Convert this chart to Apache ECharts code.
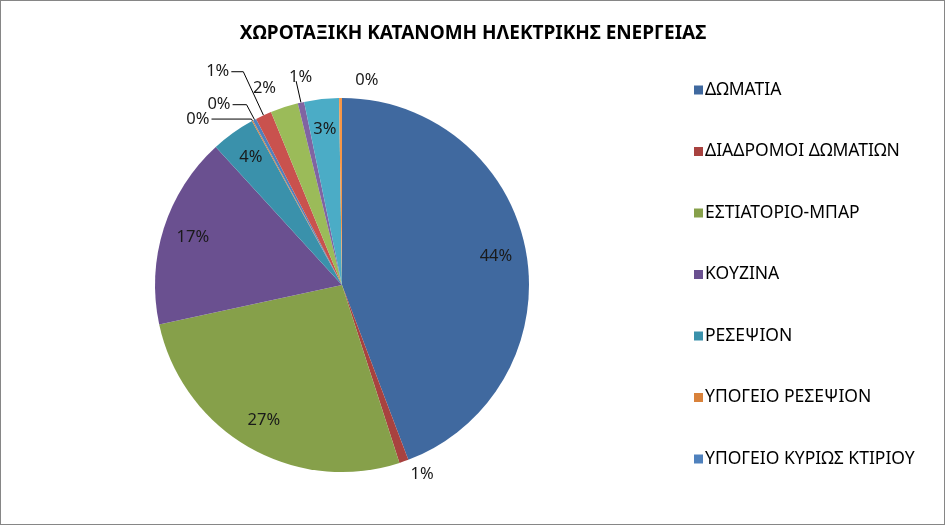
<!DOCTYPE html>
<html>
<head>
<meta charset="utf-8">
<script src="https://cdn.jsdelivr.net/npm/echarts@6/dist/echarts.min.js"></script>
<style>
html,body{margin:0;padding:0;background:#fff;}
#frame{width:945px;height:525px;box-sizing:border-box;border:1px solid #868686;position:relative;}
#chart{position:absolute;left:0;top:0;width:943px;height:523px;}
</style>
</head>
<body>
<div id="frame"><div id="chart"></div></div>
<script>
const titleText = 'ΧΩΡΟΤΑΞΙΚΗ ΚΑΤΑΝΟΜΗ ΗΛΕΚΤΡΙΚΗΣ ΕΝΕΡΓΕΙΑΣ';
const categories = ['ΔΩΜΑΤΙΑ','ΔΙΑΔΡΟΜΟΙ ΔΩΜΑΤΙΩΝ','ΕΣΤΙΑΤΟΡΙΟ-ΜΠΑΡ','ΚΟΥΖΙΝΑ','ΡΕΣΕΨΙΟΝ','ΥΠΟΓΕΙΟ ΡΕΣΕΨΙΟΝ','ΥΠΟΓΕΙΟ ΚΥΡΙΩΣ ΚΤΙΡΙΟΥ','ΧΩΡΟΣ 8','ΧΩΡΟΣ 9','ΧΩΡΟΣ 10','ΧΩΡΟΣ 11','ΧΩΡΟΣ 12'];
const values = [44.25, 0.8, 26.6, 16.6, 3.8, 0.1, 0.3, 1.4, 2.4, 0.55, 3.0, 0.25];
const legendNames = categories.slice(0, 7);
const colors = ['#40699f','#a8423f','#86a04a','#6a5090','#3a91ab','#d9823b','#4f81bd','#c9524e','#9bbb59','#8064a2','#4bacc6','#f79646'];
const insideIdx = [0, 2, 3, 4, 10];
// leader line styling per small slice: [length, length2, showLine]
const leaderStyle = {1:[14,0,false], 5:[2,40,true], 6:[17,14,true], 7:[48,12,true], 8:[20,0,false], 9:[22,0,true], 11:[14,0,false]};
// small label nudges (offsets) to mimic the original best-fit placement
const labelNudge = {9:[18,-4], 11:[40,-4]};

const chart = echarts.init(document.getElementById('chart'), null, {renderer:'canvas'});
const fmt = p => Math.round(p.percent) + '%';
const labelFont = {fontFamily:'Noto Sans', fontSize:16.5, color:'#1a1a1a'};

const mainData = categories.map((n, i) => {
  const inside = insideIdx.indexOf(i) >= 0;
  const ls = leaderStyle[i] || [8, 8, true];
  return {
    name: n, value: values[i],
    itemStyle: {color: colors[i]},
    label: {show: !inside},
    labelLine: {show: !inside && ls[2], length: ls[0], length2: ls[1]}
  };
});
const labelData = categories.map((n, i) => ({
  name: n, value: values[i],
  itemStyle: {color: 'rgba(0,0,0,0)'},
  label: {show: insideIdx.indexOf(i) >= 0}
}));

chart.setOption({
  animation: false,
  title: {text: titleText, left: 467, textAlign: 'center', top: 18,
    textStyle: {fontFamily:'Noto Sans', fontWeight:'bold', fontSize:19, color:'#000'}},
  legend: {
    orient: 'vertical', left: 693, top: 79, padding: 0,
    itemWidth: 9, itemHeight: 9, itemGap: 41.5, icon: 'rect',
    textStyle: {fontFamily:'Noto Sans', fontSize:17.5, color:'#000', lineHeight:20, padding:[0,0,0,-3]},
    data: legendNames.map((n, i) => ({name: n, itemStyle: {color: colors[i]}}))
  },
  series: [
    {
      type: 'pie', center: [341, 284], radius: [0, 187],
      startAngle: 90, clockwise: true, silent: true,
      avoidLabelOverlap: false,
      data: mainData,
      label: Object.assign({position: 'outside', formatter: fmt, distanceToLabelLine: 2}, labelFont),
      labelLine: {lineStyle: {color: '#000', width: 1}},
      labelLayout: function (p) {
        const n = labelNudge[p.dataIndex];
        return n ? {dx: n[0], dy: n[1]} : {};
      },
      itemStyle: {borderWidth: 0}
    },
    {
      type: 'pie', center: [341, 284], radius: [120, 187],
      startAngle: 90, clockwise: true, silent: true,
      data: labelData,
      label: Object.assign({position: 'inside', formatter: fmt}, labelFont),
      labelLine: {show: false},
      itemStyle: {borderWidth: 0}
    }
  ]
});
</script>
</body>
</html>
